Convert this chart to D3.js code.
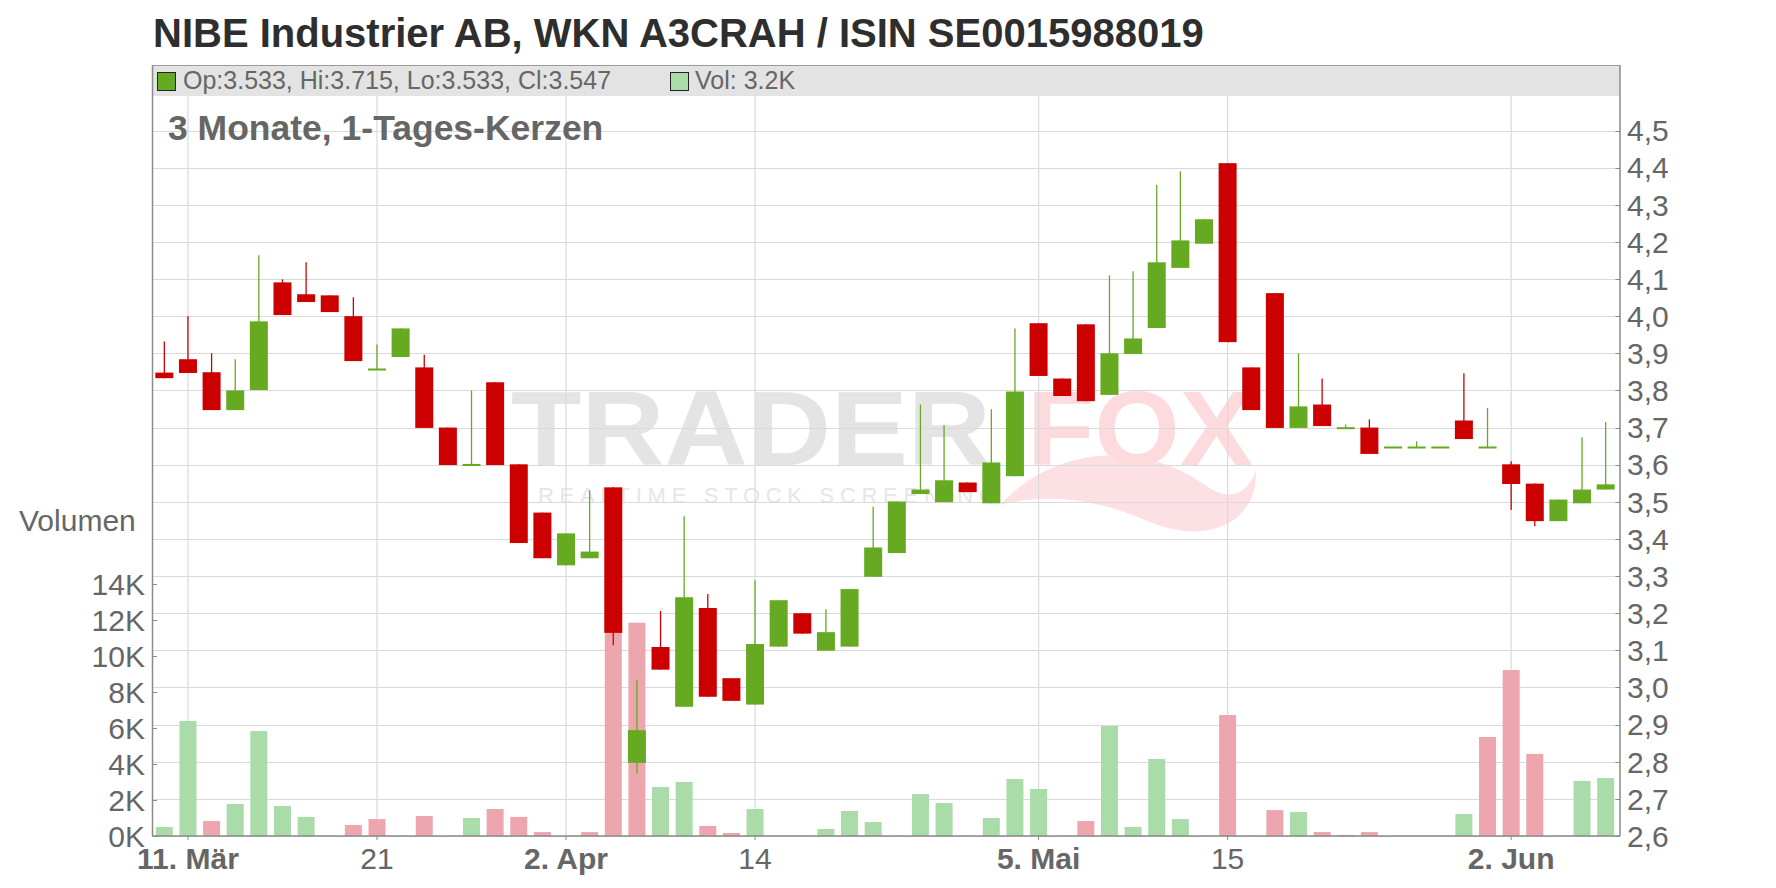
<!DOCTYPE html>
<html><head><meta charset="utf-8">
<script src="https://cdn.jsdelivr.net/npm/d3@7/dist/d3.min.js"></script>
<style>html,body{margin:0;padding:0;background:#fff;}svg{display:block;font-family:"Liberation Sans",Arial,sans-serif;}</style>
</head><body>
<svg id="c" width="1776" height="888"></svg>
<script>
// ---- data ----
const dates = ["2025-03-10","2025-03-11","2025-03-12","2025-03-13","2025-03-14","2025-03-17","2025-03-18","2025-03-19","2025-03-20","2025-03-21",
"2025-03-24","2025-03-25","2025-03-26","2025-03-27","2025-03-28","2025-03-31","2025-04-01","2025-04-02","2025-04-03","2025-04-04",
"2025-04-07","2025-04-08","2025-04-09","2025-04-10","2025-04-11","2025-04-14","2025-04-15","2025-04-16","2025-04-17","2025-04-22",
"2025-04-23","2025-04-24","2025-04-25","2025-04-28","2025-04-29","2025-04-30","2025-05-02","2025-05-05","2025-05-06","2025-05-07",
"2025-05-08","2025-05-09","2025-05-12","2025-05-13","2025-05-14","2025-05-15","2025-05-16","2025-05-19","2025-05-20","2025-05-21",
"2025-05-22","2025-05-23","2025-05-26","2025-05-27","2025-05-28","2025-05-29","2025-05-30","2025-06-02","2025-06-03","2025-06-04",
"2025-06-05","2025-06-06"];
const openP = [3.848,3.884,3.849,3.747,3.801,4.091,4.059,4.056,4.000,3.857,
3.890,3.862,3.700,3.600,3.822,3.601,3.471,3.329,3.348,3.539,
2.797,3.109,2.948,3.214,3.025,2.954,3.110,3.200,3.099,3.110,
3.298,3.362,3.521,3.499,3.552,3.496,3.569,3.981,3.832,3.978,
3.788,3.898,3.968,4.130,4.195,4.412,3.862,4.062,3.699,3.762,
3.700,3.700,3.648,3.648,3.648,3.719,3.648,3.601,3.549,3.448,
3.496,3.533];
const highP = [3.932,4.000,3.900,3.884,4.164,4.099,4.145,4.056,4.051,3.924,
3.967,3.896,3.700,3.800,3.822,3.601,3.471,3.415,3.531,3.539,
3.020,3.206,3.461,3.252,3.025,3.289,3.235,3.200,3.211,3.265,
3.487,3.501,3.762,3.706,3.552,3.749,3.967,3.981,3.832,3.978,
4.110,4.121,4.353,4.390,4.261,4.412,3.862,4.062,3.900,3.832,
3.708,3.722,3.649,3.663,3.649,3.846,3.753,3.609,3.549,3.506,
3.673,3.715];
const lowP = [3.833,3.847,3.747,3.747,3.801,4.003,4.038,4.011,3.879,3.857,
3.890,3.699,3.599,3.600,3.599,3.389,3.348,3.329,3.348,3.114,
2.768,3.048,2.948,2.975,2.964,2.954,3.110,3.145,3.099,3.110,
3.298,3.362,3.521,3.499,3.526,3.496,3.569,3.839,3.785,3.771,
3.788,3.898,3.968,4.130,4.195,3.930,3.747,3.699,3.699,3.704,
3.700,3.629,3.648,3.648,3.648,3.669,3.648,3.478,3.434,3.448,
3.496,3.533];
const closeP = [3.833,3.847,3.747,3.800,3.986,4.003,4.038,4.011,3.879,3.859,
3.967,3.699,3.599,3.602,3.599,3.389,3.348,3.415,3.366,3.147,
2.885,3.048,3.243,2.975,2.964,3.117,3.235,3.145,3.149,3.265,
3.377,3.501,3.533,3.558,3.526,3.606,3.797,3.839,3.785,3.771,
3.900,3.940,4.145,4.204,4.261,3.930,3.747,3.699,3.757,3.704,
3.701,3.629,3.649,3.649,3.649,3.669,3.649,3.548,3.448,3.506,
3.533,3.547];
const volume = [500,6390,830,1780,5830,1670,1060,0,610,940,
0,1110,0,1000,1500,1060,220,0,220,11800,
11850,2720,3000,560,170,1500,0,0,390,1390,
780,0,2330,1830,0,1000,3170,2610,0,830,
6110,500,4280,940,0,6720,0,1440,1330,220,
60,220,0,0,0,1220,5500,9220,4560,0,
3060,3220];
const tickDates = ["2025-03-11","2025-03-21","2025-04-02","2025-04-14","2025-05-05","2025-05-15","2025-06-02"];
const tickLabels = ["11. Mär","21","2. Apr","14","5. Mai","15","2. Jun"];
const tickBold = [true,false,true,false,true,false,true];
const priceTicks = [2.6,2.7,2.8,2.9,3.0,3.1,3.2,3.3,3.4,3.5,3.6,3.7,3.8,3.9,4.0,4.1,4.2,4.3,4.4,4.5];
const volTicks = [0,2000,4000,6000,8000,10000,12000,14000];
const titleText = "NIBE Industrier AB, WKN A3CRAH / ISIN SE0015988019";
const subTitle = "3 Monate, 1-Tages-Kerzen";
const legendText = "Op:3.533, Hi:3.715, Lo:3.533, Cl:3.547";
const legendVol = "Vol: 3.2K";

// ---- layout ----
const L = 152.5, R = 1620, T = 65, B = 836;
const C_UP = "#66aa22", C_DN = "#cc0000", V_UP = "#aadcaa", V_DN = "#eda6ae";
const GRID = "#dadada", AX = "#8a8a8a", TXT = "#666666";

const svg = d3.select("#c");
const x = d3.scaleBand().domain(dates).range([L, R - 2.5]).paddingInner(0.238).paddingOuter(0.12);
const y = d3.scaleLinear().domain([2.6, 4.5]).range([B, 130.5]);
const yv = d3.scaleLinear().domain([0, 14000]).range([B, 584]);
const cx = d => x(d) + x.bandwidth() / 2;

// title
svg.append("text").attr("x", 153).attr("y", 47).attr("font-size", 40).attr("font-weight", "bold")
  .attr("fill", "#2e2e2e").text(titleText);

// watermark
const wm = svg.append("g");
wm.append("text").attr("x", 511).attr("y", 465).attr("font-size", 106).attr("font-weight", "bold")
  .attr("fill", "#e4e4e4").attr("textLength", 480).attr("lengthAdjust", "spacingAndGlyphs").text("TRADER");
wm.append("path").attr("d", "M1000,505 C1060,440 1150,445 1205,485 C1228,502 1248,495 1256,470 C1258,525 1205,545 1150,522 C1100,500 1050,492 1000,505 Z")
  .attr("fill", "#fde0e4");
wm.append("text").attr("x", 1027).attr("y", 465).attr("font-size", 106).attr("font-weight", "bold")
  .attr("fill", "#fddade").attr("textLength", 226).attr("lengthAdjust", "spacingAndGlyphs").text("FOX");
wm.append("text").attr("x", 538).attr("y", 503).attr("font-size", 22)
  .attr("fill", "#e6e6e6").attr("textLength", 458).attr("lengthAdjust", "spacing").text("REALTIME STOCK SCREENING");

// grid
svg.append("g").selectAll("line").data(priceTicks.concat([4.6])).join("line")
  .attr("x1", L).attr("x2", R).attr("y1", d => Math.round(y(d)) + 0.5).attr("y2", d => Math.round(y(d)) + 0.5)
  .attr("stroke", GRID).attr("stroke-width", 1.2);
svg.append("g").selectAll("line").data(tickDates).join("line")
  .attr("x1", d => cx(d)).attr("x2", d => cx(d)).attr("y1", T).attr("y2", B)
  .attr("stroke", GRID).attr("stroke-width", 1.2);

// header bar
svg.append("rect").attr("x", L).attr("y", T).attr("width", R - L).attr("height", 31).attr("fill", "#e3e3e3");
svg.append("line").attr("x1", L).attr("x2", R).attr("y1", T + 0.5).attr("y2", T + 0.5).attr("stroke", "#9a9a9a");
svg.append("rect").attr("x", 157.5).attr("y", 72.5).attr("width", 18).attr("height", 18).attr("fill", C_UP).attr("stroke", "#222");
svg.append("text").attr("x", 183).attr("y", 89).attr("font-size", 25).attr("fill", TXT).text(legendText);
svg.append("rect").attr("x", 670.5).attr("y", 72.5).attr("width", 18).attr("height", 18).attr("fill", V_UP).attr("stroke", "#222");
svg.append("text").attr("x", 695).attr("y", 89).attr("font-size", 25).attr("fill", TXT).text(legendVol);

// subtitle
svg.append("text").attr("x", 168).attr("y", 140).attr("font-size", 35.5).attr("font-weight", "bold")
  .attr("fill", TXT).text(subTitle);

// volume bars
const bw = x.bandwidth();
svg.append("g").selectAll("rect").data(dates).join("rect")
  .attr("x", d => cx(d) - 8.5).attr("width", 17)
  .attr("y", (d, i) => yv(volume[i])).attr("height", (d, i) => B - yv(volume[i]))
  .attr("fill", (d, i) => (i === 0 || closeP[i] >= closeP[i - 1]) ? V_UP : V_DN);

// candles
const cg = svg.append("g");
cg.selectAll("line").data(dates).join("line")
  .attr("x1", d => cx(d)).attr("x2", d => cx(d))
  .attr("y1", (d, i) => y(highP[i])).attr("y2", (d, i) => y(lowP[i]))
  .attr("stroke", (d, i) => closeP[i] >= openP[i] ? C_UP : C_DN).attr("stroke-width", 1.3);
cg.selectAll("rect").data(dates).join("rect")
  .attr("x", d => x(d)).attr("width", bw)
  .attr("y", (d, i) => y(Math.max(openP[i], closeP[i])))
  .attr("height", (d, i) => Math.max(2, Math.abs(y(openP[i]) - y(closeP[i]))))
  .attr("fill", (d, i) => closeP[i] >= openP[i] ? C_UP : C_DN);

// axes lines
svg.append("line").attr("x1", L).attr("x2", L).attr("y1", T).attr("y2", B).attr("stroke", AX).attr("stroke-width", 1.5);
svg.append("line").attr("x1", R).attr("x2", R).attr("y1", T).attr("y2", B).attr("stroke", AX).attr("stroke-width", 1.5);
svg.append("line").attr("x1", L).attr("x2", R).attr("y1", B).attr("y2", B).attr("stroke", AX).attr("stroke-width", 1.5);

// right price axis
const ra = svg.append("g");
ra.selectAll("line").data(priceTicks).join("line")
  .attr("x1", R - 4.5).attr("x2", R).attr("y1", d => Math.round(y(d)) + 0.5).attr("y2", d => Math.round(y(d)) + 0.5).attr("stroke", AX);
ra.selectAll("text").data(priceTicks).join("text")
  .attr("x", 1627).attr("y", d => y(d)).attr("dy", "0.36em").attr("font-size", 30).attr("fill", TXT)
  .text(d => d3.format(".1f")(d).replace(".", ","));

// left volume axis
const la = svg.append("g");
la.selectAll("line").data(volTicks).join("line")
  .attr("x1", L).attr("x2", L + 4.5).attr("y1", d => Math.round(yv(d)) + 0.5).attr("y2", d => Math.round(yv(d)) + 0.5).attr("stroke", AX);
la.selectAll("text").data(volTicks).join("text")
  .attr("x", 145).attr("y", d => yv(d)).attr("dy", "0.36em").attr("text-anchor", "end").attr("font-size", 30).attr("fill", TXT)
  .text(d => (d / 1000) + "K");
svg.append("text").attr("x", 19).attr("y", 531).attr("font-size", 30).attr("fill", TXT).text("Volumen");

// bottom date axis
const ba = svg.append("g");
ba.selectAll("line").data(tickDates).join("line")
  .attr("x1", d => cx(d)).attr("x2", d => cx(d)).attr("y1", B).attr("y2", B + 4).attr("stroke", AX);
ba.selectAll("text").data(tickDates).join("text")
  .attr("x", d => cx(d)).attr("y", 869).attr("text-anchor", "middle").attr("font-size", 30)
  .attr("font-weight", (d, i) => tickBold[i] ? "bold" : "normal").attr("fill", TXT)
  .text((d, i) => tickLabels[i]);
</script>
</body></html>
